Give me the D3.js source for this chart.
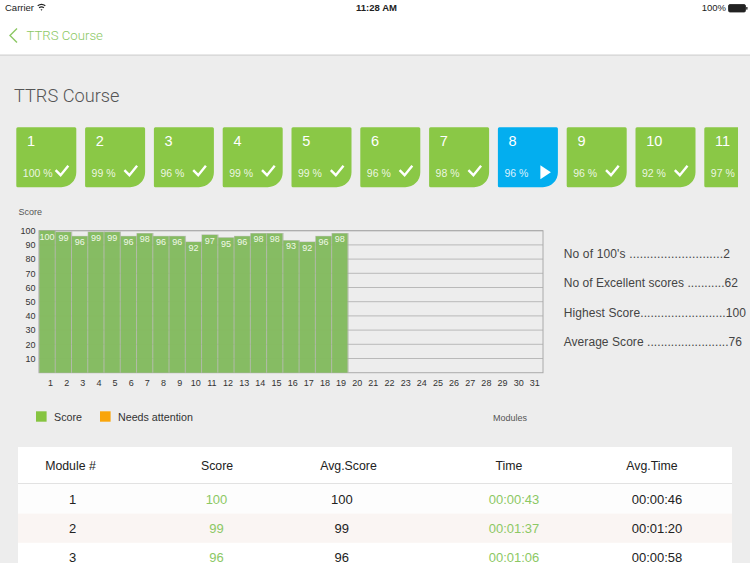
<!DOCTYPE html>
<html><head><meta charset="utf-8">
<script src="https://cdn.jsdelivr.net/npm/d3@7"></script>
<style>
html,body{margin:0;padding:0;background:#ededed;overflow:hidden}
svg{display:block}
text{font-family:"Liberation Sans",Arial,sans-serif}
</style></head><body>
<svg id="c" width="750" height="563"></svg>
<script>
// ---- data ----
const modules = d3.range(1, 32);
const scores = [100,99,96,99,99,96,98,96,96,92,97,95,96,98,98,93,92,96,98];
const yTicks = [10,20,30,40,50,60,70,80,90,100];
const tileIds = [1,2,3,4,5,6,7,8,9,10,11];
const tilePercents = [100,99,96,99,99,96,98,96,96,92,97];
const activeTile = 8;
const statLabels = ["No of 100's ...........................2","No of Excellent scores ...........62","Highest Score.........................100","Average Score ........................76"];
const legendLabels = ["Score","Needs attention"];
const legendColors = ["#86c440","#f9a50b"];
const tableHeaders = ["Module #","Score","Avg.Score","Time","Avg.Time"];
const tableRows = [
  ["1","100","100","00:00:43","00:00:46"],
  ["2","99","99","00:01:37","00:01:20"],
  ["3","96","96","00:01:06","00:00:58"]
];

const svg = d3.select("#c");
const GREEN = "#8ac846", BLUE = "#03aeef", LINK = "#8cc864";
const LIGHT = 'Roboto,"Liberation Sans",sans-serif';

// ---- header ----
svg.append("rect").attr("width",750).attr("height",55).attr("fill","#fff");
svg.append("rect").attr("y",54.5).attr("width",750).attr("height",1.2).attr("fill","#d2d2d2");
svg.append("text").attr("x",5).attr("y",11).attr("font-size",9.5).attr("fill","#222").text("Carrier");
const wifi = svg.append("g").attr("transform","translate(41.5,11)").attr("fill","none").attr("stroke","#222");
wifi.append("path").attr("d","M-3.8,-5.2 Q0,-8 3.8,-5.2").attr("stroke-width",1.3);
wifi.append("path").attr("d","M-2.4,-3.3 Q0,-5 2.4,-3.3").attr("stroke-width",1.3);
wifi.append("path").attr("d","M-1,-1.4 L0,-0.3 L1,-1.4 Q0,-2.2 -1,-1.4Z").attr("fill","#222").attr("stroke","none");
svg.append("text").attr("x",376.5).attr("y",11).attr("text-anchor","middle").attr("font-size",9.5).attr("font-weight",700).attr("fill","#222").text("11:28 AM");
svg.append("text").attr("x",726).attr("y",11).attr("text-anchor","end").attr("font-size",9.5).attr("fill","#222").text("100%");
svg.append("rect").attr("x",728.5).attr("y",4.5).attr("width",17).attr("height",7.5).attr("rx",1.5).attr("fill","#222").attr("stroke","#222").attr("stroke-width",.8);
svg.append("rect").attr("x",746.2).attr("y",7).attr("width",1.3).attr("height",2.6).attr("fill","#222");
svg.append("path").attr("d","M17,28.5 L10,35.5 L17,42.5").attr("fill","none").attr("stroke",LINK).attr("stroke-width",1.4);
svg.append("text").attr("x",26.5).attr("y",40).attr("font-size",13.2).attr("font-weight",300).style("font-family",LIGHT).attr("fill",LINK).text("TTRS Course");
svg.append("text").attr("x",14).attr("y",102).attr("font-size",18.2).attr("font-weight",300).style("font-family",LIGHT).attr("fill","#555").text("TTRS Course");

// ---- tiles ----
const tileX = d3.scaleLinear().domain([1,2]).range([16.3,85.1]);
const tw = 60, th = 60, ty = 127.2;
svg.append("defs").append("clipPath").attr("id","tc").append("rect").attr("x",0).attr("y",0).attr("width",738).attr("height",563);
const tileLayer = svg.append("g").attr("clip-path","url(#tc)");
tileIds.forEach((id,i)=>{
  const x = tileX(id), active = id===activeTile;
  const g = tileLayer.append("g").attr("transform",`translate(${x},${ty})`);
  const r=15, s=1.5;
  g.append("path").attr("d",`M${s},0H${tw-s}A${s},${s} 0 0 1 ${tw},${s}V${th-r}A${r},${r} 0 0 1 ${tw-r},${th}H${s}A${s},${s} 0 0 1 0,${th-s}V${s}A${s},${s} 0 0 1 ${s},0Z`).attr("fill",active?BLUE:GREEN);
  g.append("text").attr("x",10.7).attr("y",19).attr("font-size",14.5).attr("fill","#fff").text(id);
  g.append("text").attr("x",6.5).attr("y",50).attr("font-size",10.5).attr("fill","#fff").attr("fill-opacity",.85).text(tilePercents[i]+" %");
  if(active) g.append("path").attr("d","M42.5,38 L53,45 L42.5,52Z").attr("fill","#fff");
  else g.append("path").attr("d","M39.3,43 L44.3,48 L52,38.5").attr("fill","none").attr("stroke","#fff").attr("stroke-width",2.4);
});

// ---- chart ----
const x = d3.scaleBand().domain(modules).range([39,543]).paddingInner(0.06).paddingOuter(0.03);
const xLabel = d3.scalePoint().domain(modules).range([50,534.3]);
const y = d3.scaleLinear().domain([0,100]).range([372.7,230.7]);
const plot = svg.append("g");
plot.selectAll(".grid").data(yTicks).join("line").attr("class","grid")
  .attr("x1",39).attr("x2",543).attr("y1",d=>y(d)).attr("y2",d=>y(d))
  .attr("stroke","#b9b9b9").attr("stroke-width",1);
plot.append("rect").attr("x",39).attr("y",y(100)).attr("width",504).attr("height",y(0)-y(100))
  .attr("fill","none").attr("stroke","#aaa").attr("stroke-width",1);

plot.selectAll(".shadow").data(scores).join("rect").attr("class","shadow")
  .attr("x",(d,i)=>x(modules[i])-.6).attr("width",x.bandwidth()+1.8)
  .attr("y",d=>y(d)-.5).attr("height",d=>y(0)-y(d)+.5).attr("fill","#a9b3a0").attr("fill-opacity",.75);
plot.selectAll(".bar").data(scores).join("rect").attr("class","bar")
  .attr("x",(d,i)=>x(modules[i])).attr("width",x.bandwidth())
  .attr("y",d=>y(d)).attr("height",d=>y(0)-y(d)).attr("fill","#82bb5c").attr("fill-opacity",.93);
plot.selectAll(".val").data(scores).join("text").attr("class","val")
  .attr("x",(d,i)=>x(modules[i])+x.bandwidth()/2).attr("y",d=>y(d)+8.8)
  .attr("text-anchor","middle").attr("font-size",9).attr("fill","#f0f8e8").text(d=>d);

const xAxis = svg.append("g").attr("transform","translate(0,373)")
  .call(d3.axisBottom(xLabel).tickSize(0).tickPadding(6.5));
xAxis.select(".domain").remove();
xAxis.selectAll("text").attr("font-size",9).attr("font-family",'"Liberation Sans",Arial,sans-serif').attr("fill","#333");
const yAxis = svg.append("g").attr("transform","translate(39,0)")
  .call(d3.axisLeft(y).tickValues(yTicks).tickSize(0).tickPadding(3.5));
yAxis.select(".domain").remove();
yAxis.selectAll("text").attr("font-size",9).attr("font-family",'"Liberation Sans",Arial,sans-serif').attr("fill","#333");

svg.append("text").attr("x",18.5).attr("y",215).attr("font-size",9).attr("fill","#555").text("Score");
svg.append("text").attr("x",510).attr("y",420.5).attr("text-anchor","middle").attr("font-size",9).attr("fill","#555").text("Modules");

// ---- legend ----
const legendX = [36,100];
legendLabels.forEach((l,i)=>{
  svg.append("rect").attr("x",legendX[i]).attr("y",411.3).attr("width",10.6).attr("height",10.4).attr("fill",legendColors[i]);
  svg.append("text").attr("x",legendX[i]+18).attr("y",420.5).attr("font-size",10.7).attr("fill","#333").text(l);
});

// ---- stats ----
const statY = d3.scaleLinear().domain([0,1]).range([258,287.4]);
const statEnd = [730,738,746,742];
statLabels.forEach((s,i)=>{
  svg.append("text").attr("x",563.7).attr("y",statY(i)).attr("font-size",12).attr("fill","#444")
    .attr("textLength",statEnd[i]-563.7).attr("lengthAdjust","spacing").text(s);
});

// ---- table ----
const headX = [70.5,217,348.5,509,652];
const colX = [72.5,216.5,341.8,514,657];
svg.append("rect").attr("x",18).attr("y",447).attr("width",714).attr("height",116).attr("fill","#fff");
svg.append("rect").attr("x",18).attr("y",483).attr("width",714).attr("height",1).attr("fill","#e2e2e2");
svg.append("rect").attr("x",18).attr("y",484).attr("width",714).attr("height",29.5).attr("fill","#fdfdfd");
svg.append("rect").attr("x",18).attr("y",513.5).attr("width",714).attr("height",29.3).attr("fill","#faf5f3");
tableHeaders.forEach((h,i)=>{
  svg.append("text").attr("x",headX[i]).attr("y",469.5).attr("text-anchor","middle").attr("font-size",12.3).attr("fill","#222").text(h);
});
const rowY = [503.5,532.8,561.8];
tableRows.forEach((r,ri)=>r.forEach((c,ci)=>{
  svg.append("text").attr("x",colX[ci]).attr("y",rowY[ri]).attr("text-anchor","middle").attr("font-size",13)
    .attr("fill",(ci===1||ci===3)?"#8cc864":"#222").text(c);
}));
</script>
</body></html>
